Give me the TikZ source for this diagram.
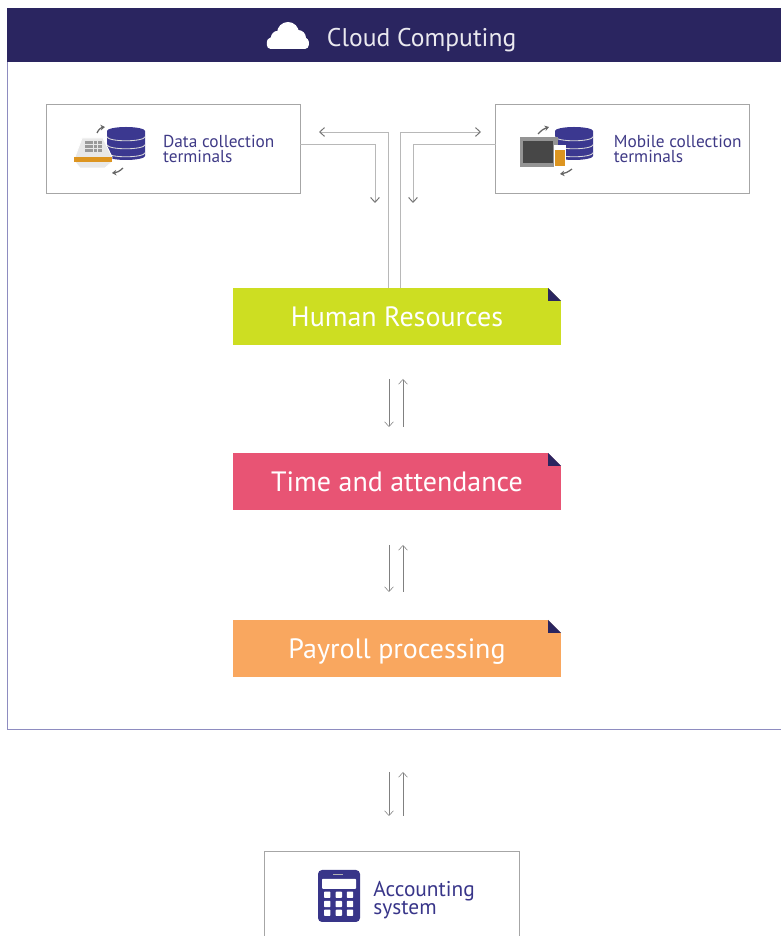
\documentclass[tikz,border=0pt]{standalone}
\usepackage{fontspec}
\setmainfont{PT Sans}
\usetikzlibrary{arrows,arrows.meta}
\definecolor{navy}{HTML}{2A2560}
\definecolor{frame_line}{HTML}{8E8CC0}
\definecolor{label_blue}{HTML}{3F3A86}
\definecolor{db_blue}{HTML}{3B3890}
\definecolor{lime}{HTML}{CDDE22}
\definecolor{rose}{HTML}{E85474}
\definecolor{peach}{HTML}{F9A75F}
\definecolor{amber}{HTML}{DD9520}
\tikzstyle{cloud_frame} = [anchor=north west,rectangle,draw=frame_line,semithick,inner sep=0pt,outer sep=0pt,minimum width=20cm,minimum height=18.025cm]
\tikzstyle{header} = [anchor=north west,rectangle,fill=navy,inner sep=0pt,outer sep=0pt,minimum width=20cm,minimum height=1.35cm]
\tikzstyle{term_block} = [anchor=north west,rectangle,draw=black!35,semithick,inner sep=0pt,outer sep=0pt,minimum width=6.35cm,minimum height=2.225cm]
\tikzstyle{step_block} = [anchor=north west,rectangle,inner sep=0pt,outer sep=0pt,minimum width=8.2cm,minimum height=1.425cm,text=white,text height=17pt,text depth=2.8pt,font=\fontsize{19.9}{22}\selectfont]
\tikzstyle{term_text} = [anchor=west,align=left,inner sep=0pt,text=label_blue,font=\fontsize{12.3}{10.6}\selectfont]
\tikzstyle{link} = [->,>={Straight Barb[length=1.2mm,width=2.2mm,color=black!55]},draw=black!28,line width=0.7pt]
\tikzstyle{arrow} = [->,>={Straight Barb[length=1.2mm,width=2.2mm]},draw=black!50,thin]
\tikzstyle{curl} = [->,>={Stealth[length=1.1mm,width=1.4mm]},draw=black!60,line width=0.9pt]

\begin{document}
\begin{tikzpicture}
\useasboundingbox (0,0) rectangle (19.525,23.4);
\clip (0,0) rectangle (19.525,23.4);

\node[cloud_frame] (cloud) at (0.175,23.2) {};
\node[header] (head) at (0.175,23.2) {};
\node[text=white!90!navy,font=\fontsize{18.2}{22}\selectfont] (head_text) at (10.54,22.4) {Cloud Computing};
\fill[white,rounded corners=0.1cm] (6.67,22.175) rectangle (7.72,22.45);
\fill[white] (7.2,22.575) circle (0.275);
\fill[white] (6.95,22.45) circle (0.18);
\fill[white] (7.45,22.45) circle (0.2);
\fill[white] (6.825,22.325) circle (0.15);
\fill[white] (7.57,22.325) circle (0.15);

\node[term_block] (data) at (1.15,20.8) {};
\node[term_block] (mobile) at (12.39,20.8) {};
\node[term_text] (data_text) at (4.07,19.665) {Data collection\\terminals};
\node[term_text] (mobile_text) at (15.34,19.665) {Mobile collection\\terminals};

\node[step_block,fill=lime] (hr) at (5.825,16.2) {Human Resources};
\node[step_block,fill=rose] (time) at (5.825,12.075) {Time and attendance};
\node[step_block,fill=peach] (pay) at (5.825,7.9) {Payroll processing};
\foreach \blk in {hr,time,pay}{
\fill[white] (\blk.north east) -- ++(-0.325,0) -- ++(0.325,-0.325) -- cycle;
\fill[navy] (\blk.north east) ++(-0.325,0) -- ++(0,-0.325) -- ++(0.325,0) -- cycle;
}

\node[term_block,minimum width=6.375cm,minimum height=3cm] (acc) at (6.6,2.125) {};
\node[term_text,text=db_blue!85!navy,font=\fontsize{15.2}{12.8}\selectfont] (acc_text) at (9.33,0.91) {Accounting\\system};

\coordinate (hr_left) at (9.7,16.2);
\coordinate (hr_right) at (10,16.2);
\coordinate (data_in) at (7.975,20.1);
\coordinate (mobile_in) at (12.025,20.1);
\coordinate (data_out) at (9.375,18.325);
\coordinate (mobile_out) at (10.325,18.325);
\draw[link] (hr_left) |- (data_in);
\draw[link] (hr_right) |- (mobile_in);
\draw[link] ([yshift=0.1125cm]data.east) -| (data_out);
\draw[link] ([yshift=0.1125cm]mobile.west) -| (mobile_out);

\foreach \pair/\ya/\yb in {hr_time/13.925/12.725,time_pay/9.775/8.6,pay_acc/4.1/3}{
\coordinate (\pair_a) at (9.725,\ya);
\coordinate (\pair_b) at (9.725,\yb);
\coordinate (\pair_c) at (10.075,\yb);
\coordinate (\pair_d) at (10.075,\ya);
\draw[arrow] (\pair_a) -- (\pair_b);
\draw[arrow] (\pair_c) -- (\pair_d);
}

\foreach \x in {2.675,13.875}{
\fill[db_blue] (\x,20.125) arc (180:0:0.475 and 0.1) -- ++(0,-0.625) arc (0:-180:0.475 and 0.1) -- cycle;
\foreach \y in {19.98,19.78,19.58}
\draw[white!85!black,semithick] (\x,\y) arc (180:360:0.475 and 0.1);
}

\fill[black!9,draw=white,semithick] (2.05,19.95) -- (2.575,19.95) -- (2.8,19.475) -- (2.8,19.35) -- (2.625,19.2) -- (2.0,19.2) -- (1.875,19.35) -- (1.875,19.475) -- cycle;
\fill[amber] (1.85,19.475) rectangle (2.8,19.35);
\foreach \x in {2.125,2.235,2.345,2.455}
\foreach \y in {19.6,19.7,19.8}
\fill[black!40] (\x,\y) rectangle ++(0.09,0.065);
\draw[curl] (2.425,20.075) to[bend left=30] (2.625,20.225);
\draw[curl] (3.075,19.2) to[bend left=20] (2.8,19.075);

\fill[black!42] (13,19.225) rectangle (13.95,19.975);
\fill[black!72] (13.08,19.325) rectangle (13.83,19.875);
\fill[white] (13.85,19.22) rectangle (14.15,19.78);
\fill[amber] (13.875,19.25) rectangle (14.125,19.65);
\draw[curl] (13.45,20.05) to[bend left=15] (13.725,20.225);
\draw[curl] (14.3,19.175) to[bend left=15] (14,19.05);

\fill[db_blue!85!navy,rounded corners=0.1cm] (7.95,0.35) rectangle (9,1.65);
\fill[white,rounded corners=0.02cm] (8.05,1.18) rectangle (8.9,1.43);
\fill[black!30] (8.33,1.53) rectangle (8.58,1.56);
\foreach \x in {8.18,8.47,8.75}
\foreach \y in {0.58,0.8,1.03}
\fill[white,rounded corners=0.02cm] (\x-0.08,\y-0.08) rectangle (\x+0.08,\y+0.08);
\end{tikzpicture}
\end{document}
